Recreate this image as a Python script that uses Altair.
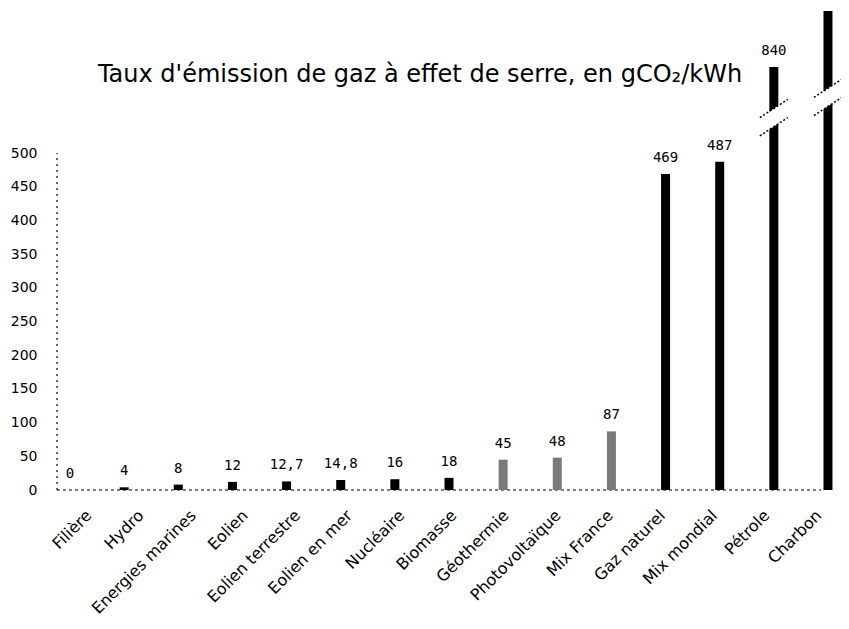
import altair as alt
import pandas as pd

categories = ["Filière", "Hydro", "Energies marines", "Eolien", "Eolien terrestre",
              "Eolien en mer", "Nucléaire", "Biomasse", "Géothermie", "Photovoltaïque",
              "Mix France", "Gaz naturel", "Mix mondial", "Pétrole", "Charbon"]
values = [0, 4, 8, 12, 12.7, 14.8, 16, 18, 45, 48, 87, 469, 487, 840, 1060]
value_labels = ["0", "4", "8", "12", "12,7", "14,8", "16", "18", "45", "48", "87",
                "469", "487", "840", ""]
y_ticks = [0, 50, 100, 150, 200, 250, 300, 350, 400, 450, 500]
hatched = ["Géothermie", "Photovoltaïque", "Mix France"]
broken_cats = ["Pétrole", "Charbon"]
broken_at = [640, 720]
title_text = "Taux d'émission de gaz à effet de serre, en gCO₂/kWh"

df = pd.DataFrame({"cat": categories, "val": values, "lab": value_labels})
df["hatch"] = df["cat"].isin(hatched)
brk = pd.DataFrame({"cat": broken_cats, "val": broken_at})
axis_df = pd.DataFrame({"lo": [y_ticks[0]], "hi": [y_ticks[-1]]})
title_df = pd.DataFrame({"t": [title_text]})

H = 482
W = 784
yscale = alt.Scale(domain=[0, 500, 840, 1060], range=[H, 145, 59, 3], zero=False, nice=False)
xscale = alt.Scale(domain=categories, paddingInner=0.815, paddingOuter=0.148)
xlab_scale = alt.Scale(type="point", domain=categories, range=[32, 762], padding=0)

x_enc = alt.X("cat:N", scale=xscale, sort=categories, axis=None)
y_enc = alt.Y("val:Q", scale=yscale,
              axis=alt.Axis(title=None, values=y_ticks, grid=False, ticks=False, domain=False,
                            labelPadding=20, labelFontSize=14, labelFont="DejaVu Sans",
                            labelColor="black"))

bars = alt.Chart(df).mark_bar(size=9).encode(
    x=x_enc, y=y_enc,
    color=alt.condition("datum.hatch", alt.value("#7a7a7a"), alt.value("black")),
)

base_line = alt.Chart(axis_df).mark_rule(color="black", strokeDash=[3, 3], strokeWidth=1.2).encode(
    y=alt.Y("lo:Q", scale=yscale), x=alt.value(0), x2=alt.value(W - 20)
)
y_line = alt.Chart(axis_df).mark_rule(color="black", strokeDash=[2, 4], strokeWidth=1.2).encode(
    y=alt.Y("lo:Q", scale=yscale), y2="hi:Q", x=alt.value(0)
)

labels = alt.Chart(df).mark_text(baseline="bottom", dy=-9, fontSize=14,
                                 font="DejaVu Sans Mono", color="black").encode(
    x=alt.X("cat:N", scale=xscale, sort=categories, axis=None),
    y=alt.Y("val:Q", scale=yscale), text="lab:N"
)

xlabels = alt.Chart(df).mark_text(angle=315, align="right", baseline="middle", fontSize=16,
                                  font="DejaVu Sans", color="black").encode(
    x=alt.X("cat:N", scale=xlab_scale, sort=categories, axis=None),
    y=alt.value(H + 23), text="cat:N"
)

gap = alt.Chart(brk).mark_point(shape="M-1,0L1,-1.3L1,0L-1,1.3Z", filled=True, opacity=1,
                                color="white", size=784, strokeWidth=0).encode(
    x=alt.X("cat:N", scale=xscale, sort=categories, axis=None), y=alt.Y("val:Q", scale=yscale)
)
gap_lines = alt.Chart(brk).mark_point(shape="M-1,0L1,-1.3M-1,1.3L1,0", filled=False, opacity=1,
                                      color="black", size=784, strokeWidth=1.5,
                                      strokeDash=[2, 2]).encode(
    x=alt.X("cat:N", scale=xscale, sort=categories, axis=None), y=alt.Y("val:Q", scale=yscale)
)

title = alt.Chart(title_df).mark_text(fontSize=24, font="DejaVu Sans", color="black",
                                      align="center", baseline="middle").encode(
    x=alt.value(363), y=alt.value(67), text="t:N"
)

main = alt.layer(base_line, y_line, bars, gap, gap_lines, labels, title)
chart = alt.layer(main, xlabels).resolve_scale(x="independent").properties(
    width=W, height=H,
    autosize=alt.AutoSizeParams(type="none"),
    padding={"left": 49, "top": 0, "right": 0, "bottom": 131},
).configure_view(stroke=None)

chart.save("out.html", embed_options={"renderer": "svg", "actions": False})
